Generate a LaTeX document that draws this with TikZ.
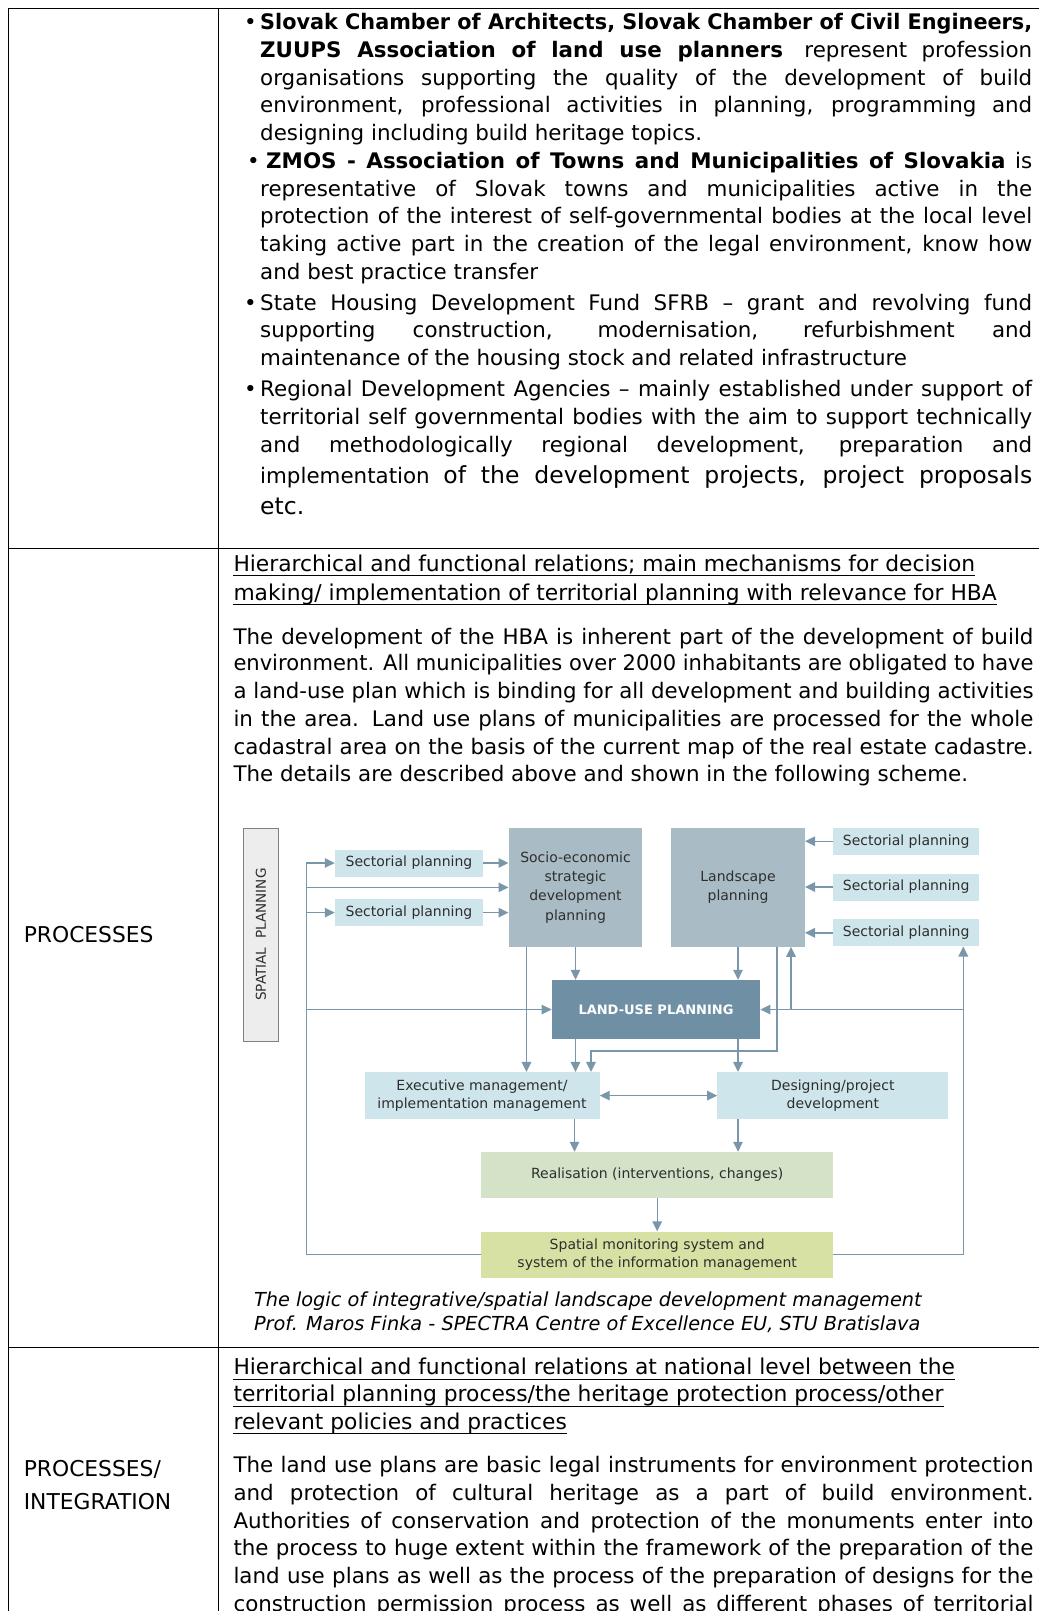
\documentclass[tikz,border=0pt]{standalone}
\usepackage{fontspec}
\setmainfont{DejaVu Sans}
\usepackage{graphicx}
\usetikzlibrary{arrows.meta,positioning}

\definecolor{secblue}{HTML}{CFE5EC}
\definecolor{midgray}{HTML}{A9BCC6}
\definecolor{landblue}{HTML}{6F8FA4}
\definecolor{realgreen}{HTML}{D4E3C7}
\definecolor{monigreen}{HTML}{D7E1A3}
\definecolor{linkblue}{HTML}{7A97AA}
\definecolor{labgray}{HTML}{2E2E2E}

% stretch a line to the given width, or squeeze it when it is too long
\newlength\natw
\newcommand\fitline[2]{\settowidth\natw{#2}\ifdim\natw>#1\relax\pgfmathsetmacro\fitr{#1/\natw}\scalebox{\fitr}[1]{#2}\else\makebox[#1][s]{#2}\fi}

\begin{document}
\begin{tikzpicture}[x=1pt,y=-1pt,>={Triangle[length=10pt,width=9.5pt]},node distance=45.8pt]
        {

          \tikzstyle{txt}=[anchor=base west,inner sep=0pt,font=\fontsize{21.4}{26}\selectfont]
          \tikzstyle{head}=[anchor=base west,inner sep=0pt,font=\fontsize{21.8}{26}\selectfont]
          \tikzstyle{capt}=[anchor=base west,inner sep=0pt,font=\fontsize{19.3}{24}\selectfont\itshape]
          \tikzstyle{lab}=[anchor=base west,inner sep=0pt,font=\fontsize{21.8}{26}\selectfont]
          \tikzstyle{sect}=[fill=secblue,text=labgray,minimum width=146pt,minimum height=27pt,inner sep=0pt,font=\fontsize{14}{16}\selectfont]
          \tikzstyle{big}=[fill=midgray,text=labgray,minimum width=133.6pt,minimum height=118.4pt,inner sep=0pt,align=center,font=\fontsize{14}{19.3}\selectfont]
          \tikzstyle{mng}=[fill=secblue,text=labgray,minimum height=47pt,inner sep=0pt,align=center,font=\fontsize{14}{18.5}\selectfont]
          \tikzstyle{wide}=[text=labgray,minimum width=352pt,minimum height=46pt,inner sep=0pt,align=center,font=\fontsize{14}{18.5}\selectfont]
          \tikzstyle{link}=[draw=linkblue,line width=1.4pt]

          \clip (0,0) rectangle (1039,1611);

          % table
          \begin{scope}[line width=1pt]
            \draw (8.2,8.2) -- (1039,8.2);
            \draw (8.2,8.2) -- (8.2,1611);
            \draw (218,8.2) -- (218,1611);
            \draw (8.2,548) -- (1039,548);
            \draw (8.2,1347) -- (1039,1347);
          \end{scope}

          % first row
          \node [txt] (b1) at (244,29.6) {•};
          \node [txt] (a1) at (260,29.6) {\fitline{772pt}{\bfseries Slovak Chamber of Architects, Slovak Chamber of Civil Engineers,}};
          \node [txt] (a2) at (260,57.4) {\fitline{772pt}{{\bfseries ZUUPS Association of land use planners}\quad represent profession}};
          \node [txt] (a3) at (260,85.1) {\fitline{772pt}{organisations supporting the quality of the development of build}};
          \node [txt] (a4) at (260,112.9) {\fitline{772pt}{environment, professional activities in planning, programming and}};
          \node [txt] (a5) at (260,140.6) {designing including build heritage topics.};
          \node [txt] (b2) at (247,168.3) {•};
          \node [txt] (a6) at (266,168.3) {\fitline{766pt}{{\bfseries ZMOS - Association of Towns and Municipalities of Slovakia} is}};
          \node [txt] (a7) at (260,196.1) {\fitline{772pt}{representative of Slovak towns and municipalities active in the}};
          \node [txt] (a8) at (260,223.8) {\fitline{772pt}{protection of the interest of self-governmental bodies at the local level}};
          \node [txt] (a9) at (260,251.6) {\fitline{772pt}{taking active part in the creation of the legal environment, know how}};
          \node [txt] (a10) at (260,279.3) {and best practice transfer};
          \node [txt] (b3) at (244,310.2) {•};
          \node [txt] (a11) at (260,310.2) {\fitline{772pt}{State Housing Development Fund SFRB – grant and revolving fund}};
          \node [txt] (a12) at (260,337.9) {\fitline{772pt}{supporting construction, modernisation, refurbishment and}};
          \node [txt] (a13) at (260,365.7) {maintenance of the housing stock and related infrastructure};
          \node [txt] (b4) at (244,396.5) {•};
          \node [txt] (a14) at (260,396.5) {\fitline{772pt}{Regional Development Agencies – mainly established under support of}};
          \node [txt] (a15) at (260,424.2) {\fitline{772pt}{territorial self governmental bodies with the aim to support technically}};
          \node [txt] (a16) at (260,452) {\fitline{772pt}{and methodologically regional development, preparation and}};
          \node [txt] (a17) at (260,483.3) {\fitline{772pt}{implementation {\fontsize{23.5}{28}\selectfont of the development projects, project proposals}}};
          \node [txt] (a18) at (260,514.7) {\fontsize{23.5}{28}\selectfont etc.};

          % second row
          \node [lab] (k1) at (23.6,942) {PROCESSES};
          \node [head] (h1) at (233.3,571.2) {Hierarchical and functional relations; main mechanisms for decision};
          \node [head] (h2) at (233.3,600) {making/ implementation of territorial planning with relevance for HBA};
          \draw [line width=1.2pt] ([yshift=-4.5pt]h1.base west) -- ([yshift=-4.5pt]h1.base east);
          \draw [line width=1.2pt] ([yshift=-4.5pt]h2.base west) -- ([yshift=-4.5pt]h2.base east);
          \node [txt] (p1) at (233.3,644.2) {\fitline{800pt}{The development of the HBA is inherent part of the development of build}};
          \node [txt] (p2) at (233.3,670.9) {\fitline{800pt}{environment. All municipalities over 2000 inhabitants are obligated to have}};
          \node [txt] (p3) at (233.3,698.6) {\fitline{800pt}{a land-use plan which is binding for all development and building activities}};
          \node [txt] (p4) at (233.3,726.4) {\fitline{800pt}{in the area. Land use plans of municipalities are processed for the whole}};
          \node [txt] (p5) at (233.3,754.2) {\fitline{800pt}{cadastral area on the basis of the current map of the real estate cadastre.}};
          \node [txt] (p6) at (233.3,781.9) {The details are described above and shown in the following scheme.};

          % scheme
          \node [draw=black!50,fill=black!7,text=labgray,rotate=90,minimum width=212.8pt,minimum height=34.9pt,inner sep=0pt,font=\fontsize{13.6}{16}\selectfont] (sp) at (261,934.7) {SPATIAL\ \ PLANNING};

          \node [sect,minimum width=148pt] (sl1) at (409,863) {Sectorial planning};
          \node [sect,minimum width=148pt] (sl2) [below of=sl1,node distance=49.6pt] {Sectorial planning};
          \node [big] (socio) at (575.5,887.4) {Socio-economic\\strategic\\development\\planning};
          \node [big] (land) at (738,887.4) {Landscape\\planning};
          \node [sect] (sr1) at (906.2,841.2) {Sectorial planning};
          \node [sect] (sr2) [below of=sr1] {Sectorial planning};
          \node [sect] (sr3) [below of=sr2] {Sectorial planning};
          \node [fill=landblue,text=white,minimum width=208.4pt,minimum height=59pt,inner sep=0pt,font=\fontsize{13}{16}\selectfont\bfseries] (lu) at (656,1009.5) {LAND-USE PLANNING};
          \node [mng,minimum width=235pt] (ex) at (482,1095.6) {Executive management/\\implementation management};
          \node [mng,minimum width=231pt] (de) at (832.8,1095.6) {Designing/project\\development};
          \node [wide,fill=realgreen] (re) at (657.2,1175) {Realisation (interventions, changes)};
          \node [wide,fill=monigreen] (mo) at (657.2,1254.5) {Spatial monitoring system and\\system of the information management};

          \coordinate (lb) at (306.7,863);
          \coordinate (rb) at (963.3,1009.5);

          \begin{scope}[link]
            \draw [->] (mo.west) -| (lb) -- (sl1.west);
            \draw [->] (lb |- socio) -- (socio.west);
            \draw [->] (lb |- sl2) -- (sl2.west);
            \draw [->] (lb |- lu) -- (lu.west);
            \draw [->] (sl1.east) -- (sl1.east -| socio.west);
            \draw [->] (sl2.east) -- (sl2.east -| socio.west);
            \draw [->] (sr1.west) -- (sr1.west -| land.east);
            \draw [->] (sr2.west) -- (sr2.west -| land.east);
            \draw [->] (sr3.west) -- (sr3.west -| land.east);
            \draw [->] (socio.south) -- (socio.south |- lu.north);
            \draw [->] (land.south) -- (land.south |- lu.north);
            \draw [->] ([xshift=-49pt]socio.south) -- ([xshift=-49pt]socio.south |- ex.north);
            \draw [->] (socio.south |- lu.south) -- (socio.south |- ex.north);
            \draw [->] (land.south |- lu.south) -- (land.south |- de.north);
            \draw [->] ([xshift=39pt]land.south) -- ++(0,104) -| ([xshift=109pt]ex.north);
            \draw [->] (mo.east) -| (rb) -- (rb |- sr3.south);
            \draw [->] (rb) -- (lu.east);
            \draw [->] ([xshift=53pt]land.south |- lu.east) -- ([xshift=53pt]land.south);
            \draw [<->] (ex.east) -- (de.west);
            \draw [->] ([xshift=92.5pt]ex.south) -- ([xshift=92.5pt]ex.south |- re.north);
            \draw [->] (land.south |- de.south) -- (land.south |- re.north);
            \draw [->] (re.south) -- (mo.north);
          \end{scope}

          \node [capt] (c1) at (253.8,1306) {The logic of integrative/spatial landscape development management};
          \node [capt] (c2) at (253.8,1330.7) {Prof. Maros Finka - SPECTRA Centre of Excellence EU, STU Bratislava};

          % third row
          \node [lab] (k2) at (23.6,1476.6) {PROCESSES/};
          \node [lab] (k3) at (23.6,1509.5) {INTEGRATION};
          \node [head] (h3) at (233.3,1374.9) {Hierarchical and functional relations at national level between the};
          \node [head] (h4) at (233.3,1401.6) {territorial planning process/the heritage protection process/other};
          \node [head] (h5) at (233.3,1429.3) {relevant policies and practices};
          \draw [line width=1.2pt] ([yshift=-4.5pt]h3.base west) -- ([yshift=-4.5pt]h3.base east);
          \draw [line width=1.2pt] ([yshift=-4.5pt]h4.base west) -- ([yshift=-4.5pt]h4.base east);
          \draw [line width=1.2pt] ([yshift=-4.5pt]h5.base west) -- ([yshift=-4.5pt]h5.base east);
          \node [txt] (q1) at (233.3,1472.5) {\fitline{800pt}{The land use plans are basic legal instruments for environment protection}};
          \node [txt] (q2) at (233.3,1500.2) {\fitline{800pt}{and protection of cultural heritage as a part of build environment.}};
          \node [txt] (q3) at (233.3,1528) {\fitline{800pt}{Authorities of conservation and protection of the monuments enter into}};
          \node [txt] (q4) at (233.3,1555.7) {\fitline{800pt}{the process to huge extent within the framework of the preparation of the}};
          \node [txt] (q5) at (233.3,1583.5) {\fitline{800pt}{land use plans as well as the process of the preparation of designs for the}};
          \node [txt] (q6) at (233.3,1611.2) {\fitline{800pt}{construction permission process as well as different phases of territorial}};

        }
\end{tikzpicture}
\end{document}
